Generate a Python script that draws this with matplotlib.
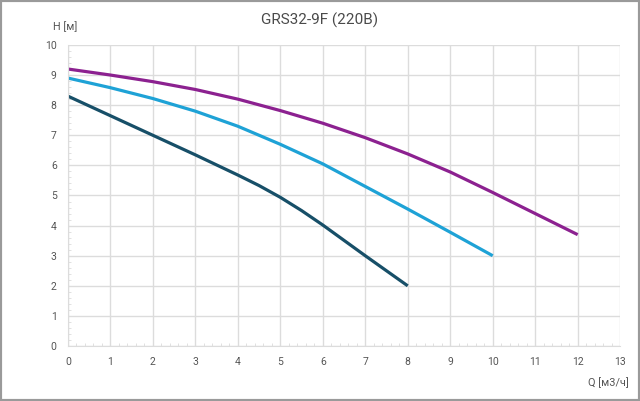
import matplotlib
matplotlib.use('Agg')
from matplotlib import pyplot as plt
from matplotlib.patches import Rectangle
from matplotlib.ticker import MultipleLocator

q_purple = [0, 1, 2, 3, 4, 5, 6, 7, 8, 9, 10, 11, 12]
h_purple = [9.2, 9.0, 8.78, 8.52, 8.2, 7.82, 7.4, 6.92, 6.38, 5.78, 5.1, 4.4, 3.7]
q_cyan = [0, 1, 2, 3, 4, 5, 6, 7, 8, 9, 10]
h_cyan = [8.9, 8.58, 8.22, 7.8, 7.3, 6.7, 6.05, 5.3, 4.55, 3.78, 3.0]
q_dark = [0, 1, 2, 3, 4, 4.5, 5, 5.5, 6, 7, 8]
h_dark = [8.3, 7.65, 7.0, 6.35, 5.68, 5.33, 4.94, 4.5, 4.02, 3.0, 2.0]

plt.rcParams['font.family'] = ['Roboto', 'DejaVu Sans']
txt = '#555555'
gridc = '#dcdcdc'

fig = plt.figure(figsize=(6.4, 4.01), dpi=100)
ax = fig.add_axes([0.106, 0.137, 0.863, 0.751])

ax.plot(q_purple, h_purple, color='#8c2190', lw=2.3, solid_capstyle='butt')
ax.plot(q_cyan, h_cyan, color='#1ea2d6', lw=2.3, solid_capstyle='butt')
ax.plot(q_dark, h_dark, color='#174f68', lw=2.3, solid_capstyle='butt')

ax.set_xlim(0, 13)
ax.set_ylim(0, 10)
ax.xaxis.set_major_locator(MultipleLocator(1))
ax.yaxis.set_major_locator(MultipleLocator(1))
ax.xaxis.set_minor_locator(MultipleLocator(0.2))
ax.yaxis.set_minor_locator(MultipleLocator(0.2))
ax.grid(True, which='major', color=gridc, lw=1)
ax.set_axisbelow(True)
for s in ['top', 'right']:
    ax.spines[s].set_visible(False)
for s in ['left', 'bottom']:
    ax.spines[s].set_color(gridc)
ax.tick_params(which='major', length=0, labelsize=7.5, labelcolor=txt, pad=8)
ax.tick_params(which='minor', length=2.5, color=gridc, direction='in')

fig.text(0.5, 0.95, 'GRS32-9F (220В)', ha='center', va='center', fontsize=11, color='#4a4a4a')
fig.text(0.102, 0.933, 'H [м]', ha='center', va='center', fontsize=7.8, color=txt)
fig.text(0.95, 0.045, 'Q [м3/ч]', ha='center', va='center', fontsize=7.8, color=txt)

fig.patches.append(Rectangle((0, 0), 1, 1, transform=fig.transFigure, fill=False,
                             edgecolor='#9a9a9a', lw=3))

fig.savefig('out.png', dpi=100)
